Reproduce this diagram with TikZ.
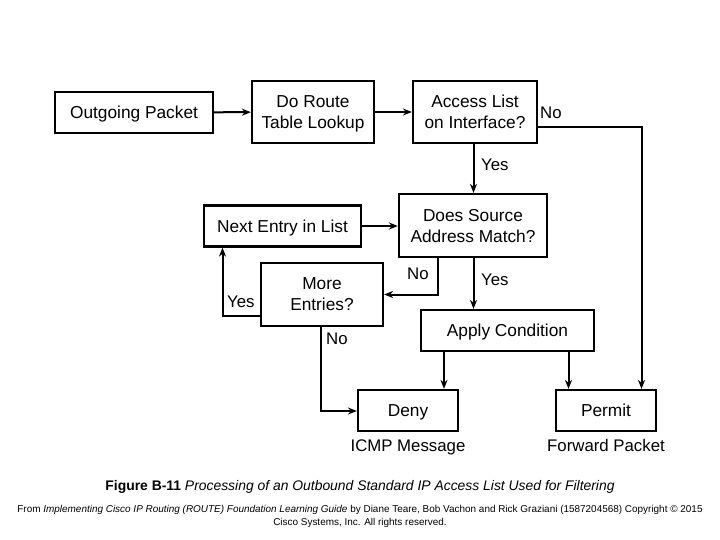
\documentclass[tikz,border=0pt]{standalone}
\usepackage{fontspec}
\setmainfont{Liberation Sans}
\usetikzlibrary{arrows.meta}
\begin{document}
\begin{tikzpicture}[x=1pt,y=-1pt,
  box/.style={draw,line width=2.2pt,inner sep=0pt,align=center,text depth=0pt,font=\fontsize{17.3}{21}\selectfont},
  arr/.style={line width=2pt,-{Stealth[length=9pt,width=7pt]}},
  lbl/.style={font=\fontsize{16.8}{20}\selectfont,inner sep=0pt},
  subcap/.style={font=\fontsize{16.8}{20}\selectfont,inner sep=0pt,text depth=0pt}]
\useasboundingbox (0,0) rectangle (720,540);
\node[box,minimum width=158pt,minimum height=41pt] (out) at (134,112.5) {Outgoing Packet};
\node[box,minimum width=122pt,minimum height=62pt] (route) at (313,112) {Do Route\\Table Lookup};
\node[box,minimum width=124pt,minimum height=62pt] (acl) at (475,112) {Access List\\on Interface?};
\node[box,minimum width=148pt,minimum height=63pt] (src) at (473,225.5) {Does Source\\Address Match?};
\node[box,minimum width=157pt,minimum height=41pt] (next) at (282.5,226) {Next Entry in List};
\node[box,minimum width=122pt,minimum height=63pt] (more) at (322,294.5) {More\\Entries?};
\node[box,minimum width=173pt,minimum height=41pt] (apply) at (507.5,330.5) {Apply Condition};
\node[box,minimum width=100pt,minimum height=41pt] (deny) at (408,410.5) {Deny};
\node[box,minimum width=100pt,minimum height=41pt] (permit) at (606,410.5) {Permit};
\node[subcap] (icmp) at (408,445.5) {ICMP Message};
\node[subcap] (fwd) at (606,445.5) {Forward Packet};
\coordinate (rt) at (641.5,127.5);
\draw[arr] (out) -- (route);
\draw[arr] (route) -- (acl);
\draw[arr] (acl.south -| 473.5,0) -- (src.north -| 473.5,0);
\draw[arr] (acl.east |- rt) -- (rt) -- (permit.north -| rt);
\draw[arr] (next) -- (src.west |- next);
\draw[arr] (src.south -| 437.5,0) |- (more.east |- 0,294.5);
\draw[arr] (src.south -| 473.5,0) -- (apply.north -| 473.5,0);
\draw[arr] (more.west |- 0,316) -| (next.south -| 222.5,0);
\draw[arr] (more.south -| 320.5,0) |- (deny.west |- 0,411);
\draw[arr] (apply.south -| 444,0) -- (deny.north -| 444,0);
\draw[arr] (apply.south -| 568.5,0) -- (permit.north -| 568.5,0);
\node[lbl,anchor=west] (lno1) at (540,113) {No};
\node[lbl,anchor=west] (lyes1) at (481,165) {Yes};
\node[lbl,anchor=west] (lno2) at (407,274) {No};
\node[lbl,anchor=west] (lyes2) at (481,280) {Yes};
\node[lbl,anchor=west] (lyes3) at (227,302) {Yes};
\node[lbl,anchor=west] (lno3) at (326,339) {No};
\node[inner sep=0pt,font=\fontsize{13.9}{16}\selectfont] (fig) at (360,487) {\textbf{Figure B-11} \textit{Processing of an Outbound Standard IP Access List Used for Filtering}};
\node[inner sep=0pt,align=center,font=\fontsize{9.95}{13}\selectfont] (from) at (360,516.5) {From \textit{Implementing Cisco IP Routing (ROUTE) Foundation Learning Guide} by Diane Teare, Bob Vachon and Rick Graziani (1587204568) Copyright © 2015\\Cisco Systems, Inc. All rights reserved.};
\end{tikzpicture}
\end{document}
